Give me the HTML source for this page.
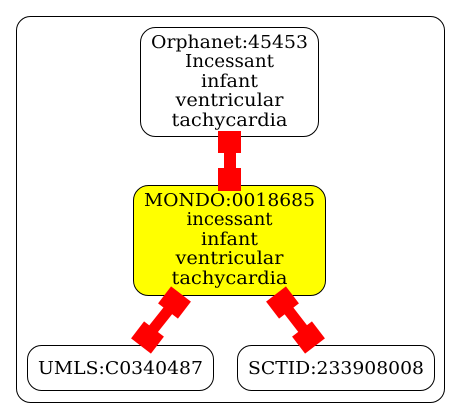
<!DOCTYPE html>
<html><head><style>body{margin:0;background:#fff}svg{display:block}text{font-family:"DejaVu Serif","Liberation Serif",serif;font-size:17.5px}</style></head><body>
<svg width="461" height="419" viewBox="0 0 461 419" xmlns="http://www.w3.org/2000/svg" text-anchor="middle">
<rect x="16.5" y="16.5" width="428" height="386" rx="14" fill="#fff" stroke="#000"/>
<rect x="140.5" y="27.5" width="178" height="109" rx="15" fill="#fff" stroke="#000"/>
<text x="229.5" y="48" textLength="157" lengthAdjust="spacingAndGlyphs">Orphanet:45453</text>
<text x="229.5" y="67" textLength="89" lengthAdjust="spacingAndGlyphs">Incessant</text>
<text x="229.5" y="87" textLength="57" lengthAdjust="spacingAndGlyphs">infant</text>
<text x="229.5" y="106" textLength="108" lengthAdjust="spacingAndGlyphs">ventricular</text>
<text x="229.5" y="126" textLength="116" lengthAdjust="spacingAndGlyphs">tachycardia</text>
<rect x="133.5" y="185.5" width="192" height="110" rx="15" fill="#ff0" stroke="#000"/>
<text x="229.5" y="206" textLength="171" lengthAdjust="spacingAndGlyphs">MONDO:0018685</text>
<text x="229.5" y="225" textLength="86" lengthAdjust="spacingAndGlyphs">incessant</text>
<text x="229.5" y="245" textLength="57" lengthAdjust="spacingAndGlyphs">infant</text>
<text x="229.5" y="264" textLength="108" lengthAdjust="spacingAndGlyphs">ventricular</text>
<text x="229.5" y="284" textLength="116" lengthAdjust="spacingAndGlyphs">tachycardia</text>
<rect x="27.5" y="345.5" width="186" height="45" rx="14" fill="#fff" stroke="#000"/>
<text x="120.5" y="374" textLength="165" lengthAdjust="spacingAndGlyphs">UMLS:C0340487</text>
<rect x="237.5" y="345.5" width="197" height="45" rx="14" fill="#fff" stroke="#000"/>
<text x="336" y="374" textLength="176" lengthAdjust="spacingAndGlyphs">SCTID:233908008</text>
<g fill="#f00">
<rect x="218" y="131" width="23" height="22"/>
<rect x="224" y="152" width="12" height="17"/>
<rect x="218" y="168" width="23" height="23"/>
</g>
<g stroke="#f00" stroke-linecap="butt">
<line x1="178" y1="298" x2="143" y2="342" stroke-width="11"/>
<line x1="181" y1="294" x2="168" y2="311" stroke-width="25"/>
<line x1="154" y1="329" x2="141" y2="346" stroke-width="25"/>
<line x1="279" y1="298" x2="313" y2="342" stroke-width="11"/>
<line x1="276" y1="294" x2="289" y2="311" stroke-width="25"/>
<line x1="302" y1="329" x2="315" y2="346" stroke-width="25"/>
</g>
</svg>
</body></html>
